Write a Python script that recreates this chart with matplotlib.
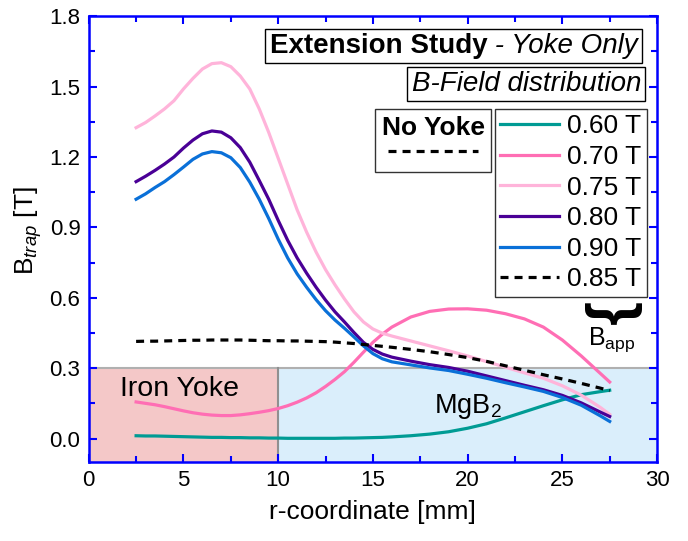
"""Trapped field profiles - extension study, yoke only."""

import matplotlib
matplotlib.use("Agg")
import matplotlib.pyplot as plt
from matplotlib.lines import Line2D
from matplotlib.patches import Rectangle
from matplotlib.offsetbox import TextArea, HPacker, AnchoredOffsetbox
from matplotlib.ticker import MultipleLocator

plt.rcParams["font.family"] = ["Liberation Sans", "DejaVu Sans"]
plt.rcParams["mathtext.fontset"] = "custom"
plt.rcParams["mathtext.rm"] = "Liberation Sans"
plt.rcParams["mathtext.it"] = "Liberation Sans:italic"

# r-coordinate [mm]
r_mm = [2.5, 3.0, 3.5, 4.0, 4.5, 5.0, 5.5, 6.0, 6.5, 7.0, 7.5, 8.0, 8.5, 9.0,
        9.5, 10.0, 10.5, 11.0, 11.5, 12.0, 12.5, 13.0, 13.5, 14.0, 14.5, 15.0,
        15.5, 16.0, 17.0, 18.0, 19.0, 20.0, 21.0, 22.0, 23.0, 24.0, 25.0,
        26.0, 27.0, 27.5]

# B_trap [T] with yoke, by applied field
b_060 = [0.012, 0.011, 0.011, 0.010, 0.009, 0.008, 0.007, 0.006, 0.005, 0.005,
         0.004, 0.004, 0.003, 0.003, 0.002, 0.002, 0.001, 0.001, 0.001, 0.001,
         0.001, 0.001, 0.002, 0.002, 0.003, 0.004, 0.005, 0.007,
         0.012, 0.019, 0.029, 0.044, 0.063, 0.088, 0.114, 0.140, 0.165, 0.187,
         0.200, 0.206]
b_070 = [0.156, 0.150, 0.144, 0.136, 0.127, 0.118, 0.110, 0.104, 0.100, 0.098,
         0.098, 0.101, 0.106, 0.112, 0.119, 0.128, 0.140, 0.155, 0.173, 0.195,
         0.222, 0.252, 0.285, 0.325, 0.368, 0.410, 0.445, 0.475,
         0.518, 0.542, 0.552, 0.553, 0.547, 0.532, 0.510, 0.475, 0.420, 0.352,
         0.278, 0.241]
b_075 = [1.325, 1.347, 1.375, 1.405, 1.440, 1.490, 1.535, 1.575, 1.598, 1.602,
         1.585, 1.545, 1.490, 1.405, 1.305, 1.195, 1.085, 0.975, 0.880, 0.795,
         0.720, 0.655, 0.595, 0.540, 0.497, 0.467, 0.449, 0.437,
         0.416, 0.395, 0.374, 0.352, 0.328, 0.304, 0.280, 0.257, 0.225, 0.185,
         0.133, 0.103]
b_080 = [1.095, 1.118, 1.143, 1.170, 1.200, 1.238, 1.272, 1.299, 1.311, 1.306,
         1.282, 1.240, 1.178, 1.100, 1.020, 0.930, 0.845, 0.770, 0.705, 0.645,
         0.590, 0.540, 0.497, 0.452, 0.410, 0.380, 0.360, 0.347,
         0.330, 0.315, 0.303, 0.287, 0.267, 0.247, 0.227, 0.208, 0.184, 0.152,
         0.113, 0.094]
b_090 = [1.020, 1.043, 1.070, 1.095, 1.125, 1.157, 1.190, 1.213, 1.223, 1.218,
         1.197, 1.155, 1.093, 1.020, 0.938, 0.850, 0.770, 0.702, 0.645, 0.592,
         0.545, 0.505, 0.470, 0.433, 0.395, 0.362, 0.340, 0.327,
         0.314, 0.301, 0.290, 0.274, 0.257, 0.238, 0.220, 0.201, 0.175, 0.142,
         0.097, 0.073]
# no yoke reference
b_085_noyoke = [0.414, 0.415, 0.415, 0.416, 0.417, 0.418, 0.419, 0.419, 0.420,
                0.420, 0.420, 0.420, 0.419, 0.418, 0.417, 0.417, 0.416, 0.416,
                0.415, 0.414, 0.413, 0.411, 0.408, 0.405, 0.401, 0.397, 0.393,
                0.389, 0.380, 0.370, 0.358, 0.345, 0.329, 0.310, 0.291, 0.272,
                0.254, 0.235, 0.215, 0.204]

series = [
    ("0.60 T", b_060, "#009B94"),
    ("0.70 T", b_070, "#FF6EB4"),
    ("0.75 T", b_075, "#FFB4DA"),
    ("0.80 T", b_080, "#4A0096"),
    ("0.90 T", b_090, "#0A70D8"),
]
DASH = (0, (2.5, 1.9))

fig = plt.figure(figsize=(6.88, 5.41), dpi=100)
ax = fig.add_axes([0.129, 0.146, 0.826, 0.824])

# regions
ax.add_patch(Rectangle((0, -0.1), 10, 0.4, facecolor="#F4C8C8",
                       edgecolor="none", zorder=0))
ax.add_patch(Rectangle((10, -0.1), 20, 0.4, facecolor="#DAEEFB",
                       edgecolor="none", zorder=0))
ax.axhline(0.3, color="#B0B0B0", lw=1.5, zorder=0.5)
ax.plot([10, 10], [-0.1, 0.3], color="#909090", lw=1.5, zorder=0.5)
ax.text(4.8, 0.21, "Iron Yoke", fontsize=20.5, ha="center", va="center")
ax.text(20.0, 0.138, "MgB$_2$", fontsize=19.5, ha="center", va="center")

handles = []
for label, vals, color in series:
    h, = ax.plot(r_mm, vals, color=color, lw=2.3, label=label, zorder=3)
    handles.append(h)
h_ref, = ax.plot(r_mm, b_085_noyoke, color="black", lw=2.3, ls=DASH,
                 label="0.85 T", zorder=3)
handles.append(h_ref)

ax.set_xlim(0, 30)
ax.set_ylim(-0.1, 1.8)
ax.xaxis.set_major_locator(MultipleLocator(5))
ax.xaxis.set_minor_locator(MultipleLocator(2.5))
ax.yaxis.set_major_locator(MultipleLocator(0.3))
ax.yaxis.set_minor_locator(MultipleLocator(0.15))
ax.tick_params(which="both", direction="in", top=True, right=True,
               color="blue", labelsize=16, width=1.5)
ax.tick_params(which="major", length=6, pad=6)
ax.tick_params(which="minor", length=4)
for sp in ax.spines.values():
    sp.set_color("blue")
    sp.set_linewidth(1.8)

ax.set_xlabel("r-coordinate [mm]", fontsize=19, labelpad=6)
ax.set_ylabel("B$_{trap}$ [T]", fontsize=19)
ax.yaxis.set_label_coords(-0.078, 0.52)

# title boxes
title = HPacker(children=[
    TextArea("Extension Study", textprops=dict(fontsize=20, fontweight="bold")),
    TextArea(" - Yoke Only", textprops=dict(fontsize=20, fontstyle="italic")),
], align="baseline", pad=0, sep=0)
abox = AnchoredOffsetbox(loc="upper right", child=title, pad=0.3,
                         borderpad=0, frameon=True,
                         bbox_to_anchor=(0.9736, 0.971),
                         bbox_transform=ax.transAxes)
abox.patch.set_edgecolor("black")
abox.patch.set_linewidth(1.0)
ax.add_artist(abox)

sub = TextArea("B-Field distribution", textprops=dict(fontsize=20, fontstyle="italic"))
sbox = AnchoredOffsetbox(loc="upper right", child=sub, pad=0.3, borderpad=0,
                         frameon=True, bbox_to_anchor=(0.979, 0.886),
                         bbox_transform=ax.transAxes)
sbox.patch.set_edgecolor("black")
sbox.patch.set_linewidth(1.0)
ax.add_artist(sbox)

# legends
leg = ax.legend(handles=handles, loc="upper right", bbox_to_anchor=(0.982, 0.7915),
                fontsize=19, frameon=True, fancybox=False, framealpha=1,
                edgecolor="#333333", handlelength=2.25, handletextpad=0.3,
                labelspacing=0.25, borderpad=0.2, borderaxespad=0)
leg.get_frame().set_linewidth(1.0)
ax.add_artist(leg)

ny = ax.legend(handles=[Line2D([], [], color="black", lw=2.3, ls=DASH)],
               labels=[""], title="No Yoke", loc="upper right",
               bbox_to_anchor=(0.708, 0.7915), fontsize=19, frameon=True,
               fancybox=False, framealpha=1, edgecolor="#333333",
               handlelength=3.4, handletextpad=0, borderpad=0.25,
               borderaxespad=0, labelspacing=0.05)
ny.get_title().set_fontsize(19)
ny.get_title().set_fontweight("bold")
ny.get_frame().set_linewidth(1.0)

# applied field brace
ax.text(27.6, 0.53, "}", fontsize=44, rotation=-90, ha="center", va="center",
        fontweight="bold")
ax.text(27.6, 0.42, "B$_\\mathrm{app}$", fontsize=18, ha="center", va="center")

for arr in (b_060, b_070, b_075, b_080, b_090, b_085_noyoke):
    assert len(arr) == len(r_mm)

fig.savefig("out.png", dpi=100)
